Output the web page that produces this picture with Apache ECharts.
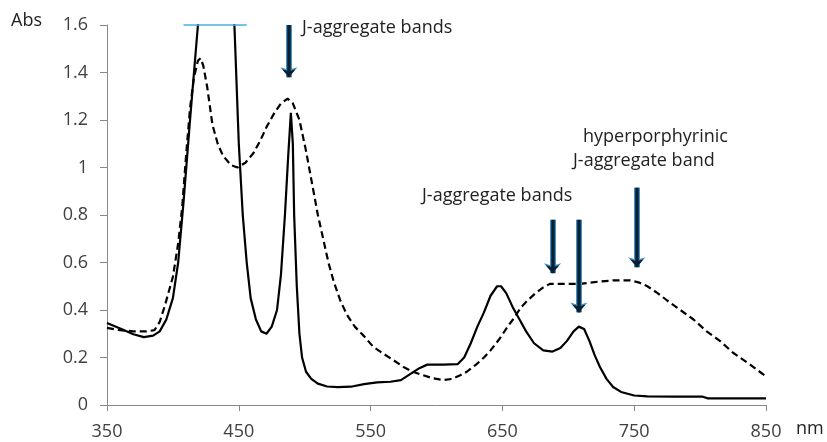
<!DOCTYPE html>
<html>
<head>
<meta charset="utf-8">
<script src="https://cdn.jsdelivr.net/npm/echarts@6/dist/echarts.min.js"></script>
<style>
html,body{margin:0;padding:0;background:#fff;}
#main{width:827px;height:442px;}
</style>
</head>
<body>
<div id="main"></div>
<script>
// wavelength (nm) / absorbance pairs
var solidNm = [350,360,370,378,385,390,395,400,404,408,413,419,432,446,450,453,456,459,463,467,471,475,479,482,485,487.5,489.5,491,492,494,496,498,501,505,510,517,525,535,545,555,565,573,580,587,593,605,616,621,626,631,636,641,646,649,653,658,663,668,674,681,688,694,699,704,708,712,716,720,724,729,734,740,750,760,780,802,806,850];
var solidAbs = [0.345,0.322,0.298,0.286,0.292,0.31,0.36,0.45,0.6,0.85,1.2,1.6,2.4,1.7,1.1,0.8,0.6,0.45,0.36,0.31,0.30,0.33,0.4,0.55,0.8,1.05,1.23,1.1,0.8,0.5,0.3,0.2,0.14,0.11,0.09,0.078,0.075,0.077,0.088,0.095,0.098,0.105,0.13,0.155,0.17,0.17,0.172,0.2,0.26,0.33,0.39,0.46,0.5,0.5,0.47,0.41,0.36,0.31,0.26,0.23,0.225,0.24,0.27,0.31,0.33,0.32,0.27,0.21,0.16,0.11,0.076,0.055,0.04,0.036,0.035,0.035,0.028,0.028];

var dashNm = [350,360,370,380,386,390,394,400,404,407,410,413,416,419,421,423,426,430,434,438,444,449,455,461,466,471,477,482,487,491,496,501,506,510,514,518,522,527,532,538,545,552,560,567,575,582,590,597,605,612,618,623,630,636,641,648,654,658,664,669,675,681,686,695,709,716,724,735,747,754,760,768,775,785,795,805,815,825,838,850];
var dashAbs = [0.325,0.315,0.31,0.31,0.315,0.35,0.42,0.54,0.68,0.83,1.05,1.25,1.38,1.45,1.46,1.43,1.34,1.18,1.1,1.05,1.01,1.0,1.02,1.06,1.11,1.17,1.23,1.27,1.29,1.27,1.2,1.07,0.92,0.8,0.7,0.6,0.52,0.44,0.38,0.33,0.29,0.245,0.215,0.19,0.16,0.14,0.125,0.113,0.105,0.11,0.125,0.14,0.17,0.2,0.23,0.28,0.33,0.36,0.41,0.44,0.47,0.495,0.51,0.51,0.51,0.515,0.52,0.525,0.525,0.515,0.5,0.47,0.44,0.4,0.36,0.31,0.27,0.22,0.17,0.12];

// arrows: [nm, from abs, to abs]
var arrows = [[488,1.6,1.38],[688,0.78,0.555],[708,0.78,0.39],[752,0.915,0.58]];
var capLine = [408,456,1.6];

function pairs(xs, ys){
  var out = [];
  for (var i = 0; i < xs.length; i++) out.push([xs[i], ys[i]]);
  return out;
}

var arrowData = arrows.map(function(a){
  return [{coord:[a[0],a[1]]},{coord:[a[0],a[2]]}];
});

var fontFam = '"Open Sans", "DejaVu Sans", sans-serif';
var chart = echarts.init(document.getElementById('main'));
chart.setOption({
  animation: false,
  backgroundColor: '#fff',
  grid: {left: 107, right: 61, top: 25, bottom: 37},
  xAxis: {
    type: 'value', min: 350, max: 850, interval: 100,
    axisLine: {lineStyle: {color: '#888', width: 1}},
    axisTick: {show: true, length: 6, lineStyle: {color: '#888'}},
    axisLabel: {color: '#404040', fontSize: 18, fontFamily: fontFam, margin: 18},
    splitLine: {show: false}
  },
  yAxis: {
    type: 'value', min: 0, max: 1.6, interval: 0.2,
    axisLine: {show: true, lineStyle: {color: '#888', width: 1}},
    axisTick: {show: true, length: 7, lineStyle: {color: '#888'}},
    axisLabel: {color: '#404040', fontSize: 18, fontFamily: fontFam, margin: 19},
    splitLine: {show: false}
  },
  graphic: [
    {type: 'text', left: 11, top: 12, style: {text: 'Abs', fill: '#222', font: '18px ' + fontFam}},
    {type: 'text', left: 796, top: 420, style: {text: 'nm', fill: '#222', font: '18px ' + fontFam}},
    {type: 'text', left: 302, top: 19, style: {text: 'J-aggregate bands', fill: '#222', font: '18px ' + fontFam}},
    {type: 'text', left: 422, top: 187, style: {text: 'J-aggregate bands', fill: '#222', font: '18px ' + fontFam}},
    {type: 'text', left: 583, top: 128, style: {text: 'hyperporphyrinic', fill: '#222', font: '18px ' + fontFam}},
    {type: 'text', left: 573, top: 152, style: {text: 'J-aggregate band', fill: '#222', font: '18px ' + fontFam}}
  ],
  series: [
    {
      name: 'dashed', type: 'line', data: pairs(dashNm, dashAbs),
      showSymbol: false, smooth: false, clip: true,
      lineStyle: {color: '#000', width: 2.2, type: [7, 4]}
    },
    {
      name: 'solid', type: 'line', data: pairs(solidNm, solidAbs),
      showSymbol: false, smooth: false, clip: true,
      lineStyle: {color: '#000', width: 2.2},
      markLine: {
        silent: true, symbol: ['none', 'none'], label: {show: false},
        lineStyle: {color: '#4aaee0', width: 1.5, type: 'solid'},
        data: [[{coord: [capLine[0], capLine[2]]}, {coord: [capLine[1], capLine[2]]}]]
      }
    },
    {
      name: 'arrowGlow', type: 'line', data: [],
      markLine: {
        silent: true, symbol: ['none', 'arrow'], symbolSize: [13, 10], label: {show: false},
        lineStyle: {color: '#3f93c8', width: 6, type: 'solid'},
        data: arrowData
      }
    },
    {
      name: 'arrows', type: 'line', data: [],
      markLine: {
        silent: true, symbol: ['none', 'arrow'], symbolSize: [10, 8], label: {show: false},
        lineStyle: {color: '#0c1f30', width: 3.5, type: 'solid'},
        data: arrowData
      }
    }
  ]
});
</script>
</body>
</html>
